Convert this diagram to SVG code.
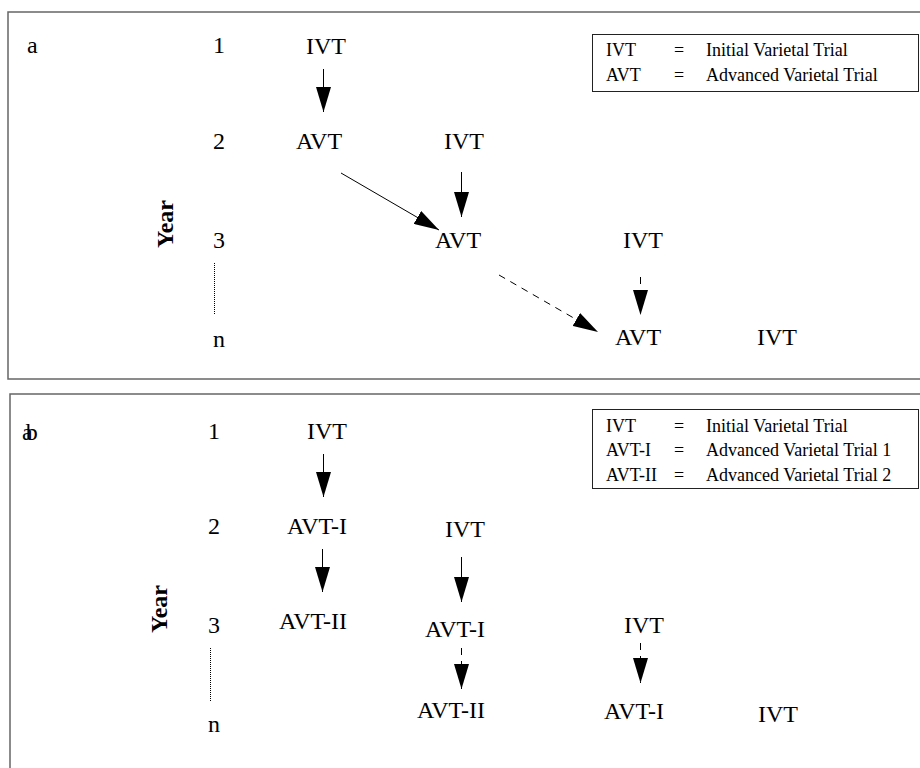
<svg xmlns="http://www.w3.org/2000/svg" width="920" height="768" viewBox="0 0 920 768">
<style>
text{font-family:"Liberation Serif","Times New Roman",serif;fill:#000}
.t{font-size:24px}
.lg{font-size:18px}
.yr{font-size:24px;font-weight:bold}
.panel{fill:none;stroke:#666;stroke-width:1.5}
.legend{fill:none;stroke:#222;stroke-width:1}
.c{stroke:#000;stroke-width:1;fill:none}
.d{stroke-dasharray:7,6}
.dot{stroke:#000;stroke-width:1;stroke-dasharray:1,1}
</style>
<defs>
<marker id="ah" markerUnits="userSpaceOnUse" markerWidth="25" markerHeight="15" refX="25" refY="7.5" orient="auto" viewBox="0 0 25 15">
<path d="M0,0 L25,7.5 L0,15 z" fill="#000"/>
</marker>
</defs>
<rect fill="#fff" x="0" y="0" width="920" height="768"/>
<g id="panel-a">
<rect class="panel" x="8" y="12" width="930" height="367"/>
<text class="t" x="27" y="53">a</text>
<g id="a-years">
<text class="t" x="213" y="53">1</text>
<text class="t" x="213" y="149">2</text>
<text class="t" x="213" y="248">3</text>
<text class="t" x="213" y="347">n</text>
<line class="dot" x1="214.5" y1="263" x2="214.5" y2="315"/>
<text class="yr" transform="translate(173,224) rotate(-90)" text-anchor="middle">Year</text>
</g>
<g id="a-n1"><text class="t" x="326" y="54" text-anchor="middle">IVT</text></g>
<g id="a-n2"><text class="t" x="319" y="149" text-anchor="middle">AVT</text></g>
<g id="a-n3"><text class="t" x="464" y="149" text-anchor="middle">IVT</text></g>
<g id="a-n4"><text class="t" x="458" y="248" text-anchor="middle">AVT</text></g>
<g id="a-n5"><text class="t" x="643" y="248" text-anchor="middle">IVT</text></g>
<g id="a-n6"><text class="t" x="638" y="345" text-anchor="middle">AVT</text></g>
<g id="a-n7"><text class="t" x="777" y="345" text-anchor="middle">IVT</text></g>
<g id="a-legend">
<rect class="legend" x="592.5" y="34.5" width="326" height="57"/>
<text class="lg" x="606" y="56">IVT</text>
<text class="lg" x="674" y="56">=</text>
<text class="lg" x="706" y="56">Initial Varietal Trial</text>
<text class="lg" x="606" y="81">AVT</text>
<text class="lg" x="674" y="81">=</text>
<text class="lg" x="706" y="81">Advanced Varietal Trial</text>
</g>
</g>
<g id="panel-b">
<rect class="panel" x="10" y="394" width="930" height="400"/>
<text class="t" x="22" y="440" letter-spacing="-7">ab</text>
<g id="b-years">
<text class="t" x="208" y="439">1</text>
<text class="t" x="208" y="534">2</text>
<text class="t" x="208" y="633">3</text>
<text class="t" x="208" y="732">n</text>
<line class="dot" x1="210.5" y1="648" x2="210.5" y2="701"/>
<text class="yr" transform="translate(167,609) rotate(-90)" text-anchor="middle">Year</text>
</g>
<g id="b-n1"><text class="t" x="347" y="439" text-anchor="end">IVT</text></g>
<g id="b-n2"><text class="t" x="347" y="534" text-anchor="end">AVT-I</text></g>
<g id="b-n3"><text class="t" x="347" y="629" text-anchor="end">AVT-II</text></g>
<g id="b-n4"><text class="t" x="485" y="537" text-anchor="end">IVT</text></g>
<g id="b-n5"><text class="t" x="485" y="637" text-anchor="end">AVT-I</text></g>
<g id="b-n6"><text class="t" x="485" y="718" text-anchor="end">AVT-II</text></g>
<g id="b-n7"><text class="t" x="664" y="633" text-anchor="end">IVT</text></g>
<g id="b-n8"><text class="t" x="664" y="719" text-anchor="end">AVT-I</text></g>
<g id="b-n9"><text class="t" x="798" y="722" text-anchor="end">IVT</text></g>
<g id="b-legend">
<rect class="legend" x="592.5" y="409.5" width="326" height="79"/>
<text class="lg" x="606" y="432">IVT</text>
<text class="lg" x="674" y="432">=</text>
<text class="lg" x="706" y="432">Initial Varietal Trial</text>
<text class="lg" x="606" y="456">AVT-I</text>
<text class="lg" x="674" y="456">=</text>
<text class="lg" x="706" y="456">Advanced Varietal Trial 1</text>
<text class="lg" x="606" y="481">AVT-II</text>
<text class="lg" x="674" y="481">=</text>
<text class="lg" x="706" y="481">Advanced Varietal Trial 2</text>
</g>
</g>
<g id="connectors">
<line class="c" x1="323.5" y1="69" x2="323.5" y2="112" marker-end="url(#ah)"/>
<line class="c" x1="461.5" y1="172" x2="461.5" y2="217" marker-end="url(#ah)"/>
<line class="c" x1="341" y1="173" x2="439" y2="230" marker-end="url(#ah)"/>
<line class="c d" x1="499" y1="275" x2="598" y2="332" marker-end="url(#ah)"/>
<line class="c d" x1="640.5" y1="277" x2="640.5" y2="315" marker-end="url(#ah)"/>
<line class="c" x1="323.5" y1="454" x2="323.5" y2="497" marker-end="url(#ah)"/>
<line class="c" x1="322.5" y1="549" x2="322.5" y2="592" marker-end="url(#ah)"/>
<line class="c" x1="461.5" y1="557" x2="461.5" y2="602" marker-end="url(#ah)"/>
<line class="c d" x1="461.5" y1="648" x2="461.5" y2="689" marker-end="url(#ah)"/>
<line class="c d" x1="640.5" y1="643" x2="640.5" y2="683" marker-end="url(#ah)"/>
</g>
</svg>
